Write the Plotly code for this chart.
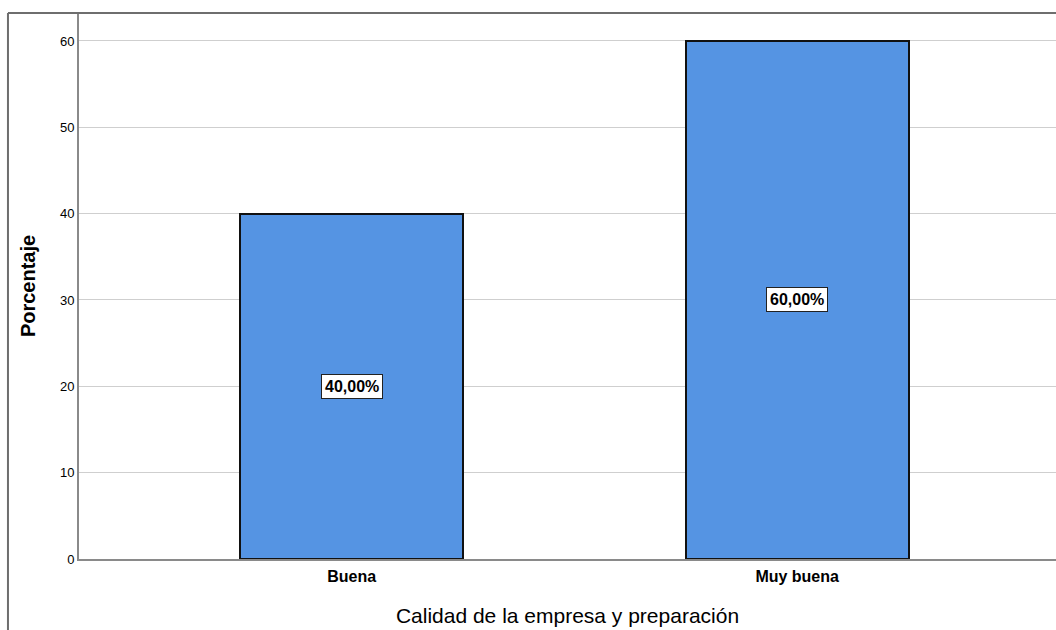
import plotly.graph_objects as go

# Chart data
categorias = ["Buena", "Muy buena"]
porcentajes = [40.0, 60.0]
etiquetas = ["40,00%", "60,00%"]
y_ticks = [0, 10, 20, 30, 40, 50, 60]

FONT = "Liberation Sans, Arial, sans-serif"
x_pos = list(range(len(categorias)))

fig = go.Figure()
fig.add_trace(go.Bar(
    x=x_pos,
    y=porcentajes,
    width=0.5,
    marker=dict(color="#5594E3", line=dict(color="#111111", width=2)),
    hoverinfo="skip",
))

# Value labels boxed at the middle of each bar
for xi, val, txt in zip(x_pos, porcentajes, etiquetas):
    fig.add_annotation(
        x=xi, y=val / 2, text=f"<b>{txt}</b>", showarrow=False,
        font=dict(family=FONT, size=16, color="#000000"),
        bgcolor="#ffffff", bordercolor="#222222", borderwidth=1, borderpad=3,
    )

# Outer frame (top and left edges)
fig.add_shape(type="line", xref="paper", yref="paper", x0=-0.0727, x1=1.02, y0=1, y1=1,
              line=dict(color="#6e6e6e", width=2))
fig.add_shape(type="line", xref="paper", yref="paper", x0=-0.0727, x1=-0.0727, y0=-0.2, y1=1,
              line=dict(color="#6e6e6e", width=2))

fig.update_layout(
    width=1056, height=630,
    margin=dict(l=79, r=0, t=13, b=71),
    paper_bgcolor="#ffffff", plot_bgcolor="#ffffff",
    showlegend=False,
    bargap=0,
    xaxis=dict(
        range=[-0.612, 1.581],
        tickmode="array", tickvals=x_pos,
        ticktext=[f"<b>{c}</b>" for c in categorias],
        tickfont=dict(family=FONT, size=16, color="#000000"),
        showgrid=False, zeroline=False,
        showline=True, linecolor="#8a8a8a", linewidth=2,
        ticks="outside", ticklen=2, tickcolor="rgba(0,0,0,0)",
        title=dict(text="Calidad de la empresa y preparación",
                   font=dict(family=FONT, size=21, color="#000000"), standoff=24),
    ),
    yaxis=dict(
        range=[0, 63.24],
        tickmode="array", tickvals=y_ticks,
        tickfont=dict(family=FONT, size=13, color="#000000"),
        showgrid=True, gridcolor="#cfcfcf", gridwidth=1,
        zeroline=False,
        showline=True, linecolor="#8a8a8a", linewidth=2,
        ticks="", ticklen=0,
        title=dict(text="<b>Porcentaje</b>",
                   font=dict(family=FONT, size=20, color="#000000"), standoff=19),
    ),
)

fig.write_html("out.html")
